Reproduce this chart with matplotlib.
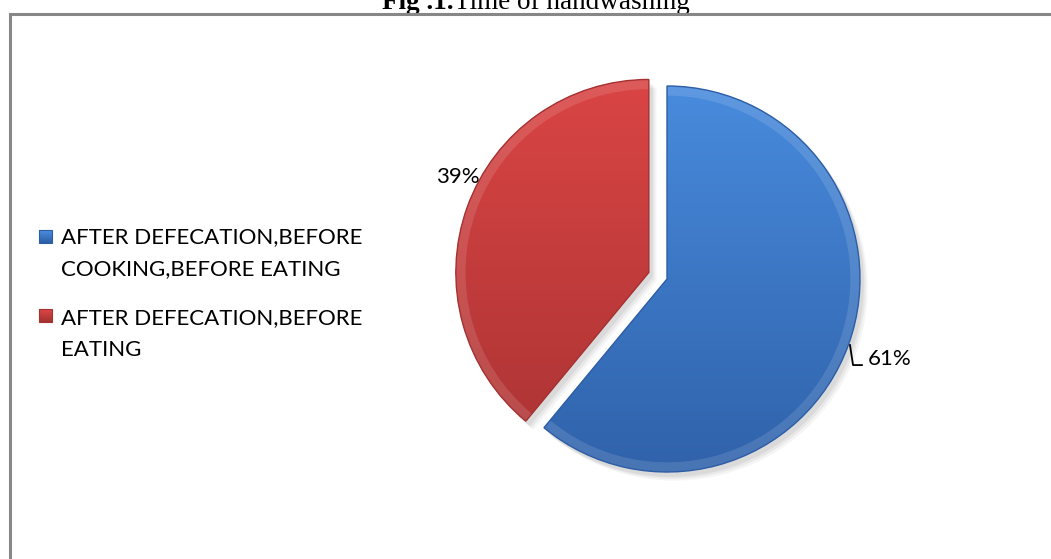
import numpy as np
import matplotlib
matplotlib.use("Agg")
import matplotlib.pyplot as plt
from matplotlib.patches import Rectangle, Wedge
from matplotlib.colors import LinearSegmentedColormap

# Chart data
categories = ["AFTER DEFECATION,BEFORE\nCOOKING,BEFORE EATING",
              "AFTER DEFECATION,BEFORE\nEATING"]
shares = [61, 39]
colors_top = ["#4b8fe2", "#de4646"]
colors_bot = ["#2d5ea5", "#a53131"]
title_bold = "Fig .1."
title_rest = "Time of handwashing"

W, H = 1051, 559
fig = plt.figure(figsize=(W / 100, H / 100), dpi=100)
TXT_FONT = "Lato"
TXT_SIZE = 16

# Background axes in pixel units for the frame, title and legend
bg = fig.add_axes([0, 0, 1, 1])
bg.set_xlim(0, W)
bg.set_ylim(H, 0)
bg.axis("off")
bg.plot([9.5, 9.5, W], [H, 14, 14], color="#878787", lw=2.2,
        solid_capstyle="butt", solid_joinstyle="miter", zorder=5)

t1 = bg.text(382, 9, title_bold, fontfamily="Liberation Serif",
             fontweight="bold", fontsize=19.5, va="baseline", ha="left")
fig.canvas.draw()
bb = t1.get_window_extent()
bg.text(382 + bb.width, 9, title_rest, fontfamily="Liberation Serif",
        fontsize=19.5, va="baseline", ha="left")

# Legend: gradient marker and two-line label per category
leg_marker_y = [236.5, 315.5]
leg_baseline = [243, 324]
line_step = 32.5
for i, (lab, ct, cb) in enumerate(zip(categories, colors_top, colors_bot)):
    y = leg_marker_y[i]
    grad = np.linspace(0, 1, 32).reshape(-1, 1)
    cmap = LinearSegmentedColormap.from_list("g", [ct, cb])
    bg.imshow(grad, cmap=cmap, extent=(39, 52, y + 6.5, y - 6.5),
              aspect="auto", zorder=2)
    bg.add_patch(Rectangle((39, y - 6.5), 13, 13, fill=False,
                           ec=cb, lw=0.8, zorder=3))
    for j, line in enumerate(lab.split("\n")):
        bg.text(61, leg_baseline[i] + j * line_step, line,
                fontfamily=TXT_FONT, fontsize=TXT_SIZE,
                va="baseline", ha="left")
bg.set_xlim(0, W)
bg.set_ylim(H, 0)

# Pie axes: unit radius maps to 193 px
R = 193
cx, cy = 667, 279
L = 1.4
side = 2 * L * R
pax = fig.add_axes([(cx - side / 2) / W, 1 - (cy + side / 2) / H, side / W, side / H])
pax.set_xlim(-L, L)
pax.set_ylim(-L, L)
pax.set_aspect("equal")
pax.axis("off")

wedges, _ = pax.pie(shares, startangle=90, counterclock=False,
                    explode=[0, 0.1], radius=1,
                    colors=colors_top,
                    wedgeprops=dict(lw=0))

# Soft shadow beneath each slice
for w in wedges:
    for k, a in enumerate([0.06, 0.05, 0.04]):
        sh = Wedge((w.center[0] + 0.02 + 0.01 * k,
                    w.center[1] - 0.025 - 0.01 * k),
                   w.r, w.theta1, w.theta2,
                   color="black", alpha=a, lw=0, zorder=0)
        pax.add_patch(sh)

# Vertical gradient fill (light on top) with a beveled rim
yy = np.linspace(0, 1, 256).reshape(-1, 1)
for w, ct, cb in zip(wedges, colors_top, colors_bot):
    cmap = LinearSegmentedColormap.from_list("g", [ct, cb])
    im = pax.imshow(yy, cmap=cmap, extent=(-1.3, 1.3, -1.2, 1.2),
                    aspect="auto", zorder=2, vmin=0, vmax=1)
    im.set_clip_path(w)
    w.set_zorder(1)
    rim = Wedge(w.center, w.r, w.theta1, w.theta2,
                width=0.05, color="white", alpha=0.12, lw=0, zorder=3)
    pax.add_patch(rim)
    edge = Wedge(w.center, w.r, w.theta1, w.theta2,
                 fill=False, ec=cb, lw=1.0, zorder=4)
    pax.add_patch(edge)

# Leader line for the 61% label
pax.plot([0.948, 0.964, 1.010], [-0.342, -0.446, -0.446], color="black", lw=1.3)

# Percentage labels (placed in pixel units, drawn above the slices)
pax.text(480, 183, f"{shares[1]}%", fontfamily=TXT_FONT, fontsize=TXT_SIZE,
         ha="right", va="baseline", transform=bg.transData, zorder=6)
pax.text(868, 365, f"{shares[0]}%", fontfamily=TXT_FONT, fontsize=TXT_SIZE,
         ha="left", va="baseline", transform=bg.transData, zorder=6)
pax.set_xlim(-L, L)
pax.set_ylim(-L, L)

fig.savefig("out.png", dpi=100)
